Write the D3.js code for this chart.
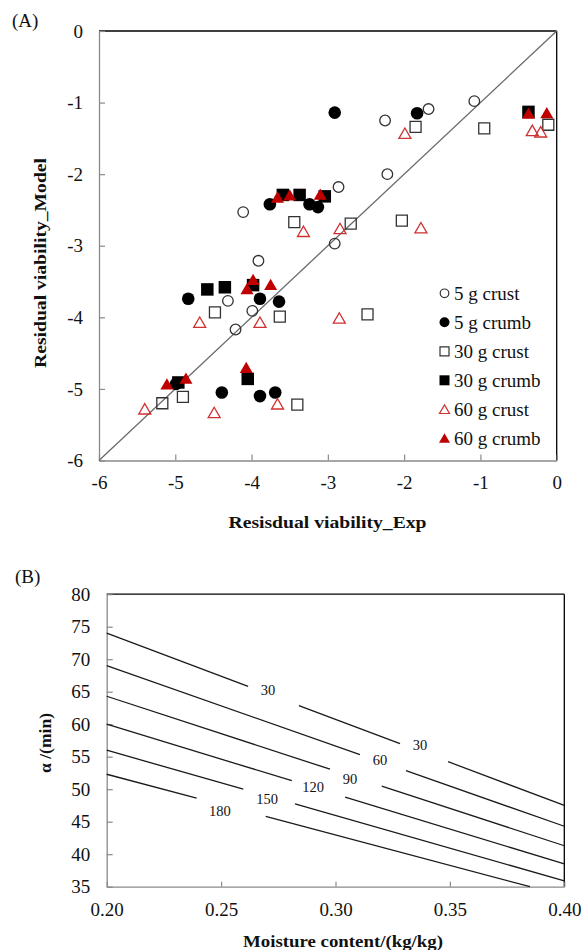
<!DOCTYPE html>
<html><head><meta charset="utf-8">
<script src="https://cdn.jsdelivr.net/npm/d3@7"></script>
<style>html,body{margin:0;padding:0;background:#fff;} svg{display:block;}</style>
</head><body>
<svg id="chart" width="583" height="950"></svg>
<script>
// ---------- Panel A data ----------
const seriesNames = ["5 g crust","5 g crumb","30 g crust","30 g crumb","60 g crust","60 g crumb"];
const crust5 = [[-1.08,-0.98],[-1.68,-1.09],[-2.25,-1.25],[-2.22,-2.00],[-2.86,-2.18],[-2.91,-2.97],[-4.11,-2.53],[-3.91,-3.21],[-4.31,-3.77],[-3.99,-3.91],[-4.21,-4.17]];
const crumb5 = [[-2.91,-1.14],[-1.83,-1.15],[-3.76,-2.42],[-3.24,-2.42],[-3.13,-2.46],[-4.83,-3.74],[-3.89,-3.74],[-3.64,-3.78],[-4.99,-4.93],[-4.39,-5.05],[-3.89,-5.10],[-3.69,-5.05]];
const crust30 = [[-0.11,-1.31],[-0.95,-1.36],[-1.85,-1.34],[-3.44,-2.67],[-2.70,-2.69],[-2.03,-2.65],[-4.48,-3.93],[-3.63,-3.99],[-2.48,-3.96],[-4.90,-5.11],[-5.17,-5.20],[-3.40,-5.22]];
const crumb30 = [[-0.37,-1.13],[-3.59,-2.29],[-3.37,-2.29],[-3.04,-2.31],[-4.58,-3.61],[-4.35,-3.58],[-3.98,-3.55],[-4.05,-4.86],[-4.96,-4.91]];
const crust60 = [[-1.99,-1.43],[-0.32,-1.39],[-0.21,-1.41],[-3.32,-2.80],[-2.84,-2.76],[-1.78,-2.75],[-4.68,-4.07],[-3.89,-4.07],[-2.85,-4.01],[-5.40,-5.28],[-4.49,-5.33],[-3.66,-5.21]];
const crumb60 = [[-0.37,-1.15],[-0.13,-1.14],[-3.66,-2.32],[-3.50,-2.29],[-3.10,-2.28],[-3.98,-3.47],[-4.06,-3.60],[-3.75,-3.54],[-4.07,-4.70],[-5.11,-4.93],[-4.86,-4.85]];
const aTicks = [-6,-5,-4,-3,-2,-1,0];
const diagonal = [[-6,-6],[0,0]];

// ---------- Panel B data ----------
const contourLevels = ["30","60","90","120","150","180"];
const contourStart = [[0.20,74.0],[0.20,69.0],[0.20,64.3],[0.20,60.0],[0.20,56.0],[0.20,52.3]];
const contourEnd   = [[0.40,47.5],[0.40,44.3],[0.40,41.3],[0.40,38.5],[0.40,35.9],[0.385,35.0]];
const contourGaps  = [[[0.2618,0.2840],[0.3282,0.3492]],[[0.3107,0.3308]],[[0.2976,0.3202]],[[0.2809,0.3042]],[[0.2597,0.2823]],[[0.2393,0.2695]]];
const contourLabels = [[["30",0.2705,65.3],["30",0.3369,56.8]],[["60",0.3194,54.5]],[["90",0.3063,51.6]],[["120",0.2902,50.3]],[["150",0.2701,48.5]],[["180",0.2495,46.6]]];
const bXTicks = [0.20,0.25,0.30,0.35,0.40];
const bYTicks = [35,40,45,50,55,60,65,70,75,80];

const svg = d3.select("#chart");
const SERIF = "'Liberation Serif','Times New Roman',serif";
const AXIS_GRAY = "#8a8a8a";

// ================= Panel A =================
const ax = d3.scaleLinear().domain([-6,0]).range([99,556.7]);
const ay = d3.scaleLinear().domain([-6,0]).range([460.5,31]);

const gA = svg.append("g");
// frame top & right
gA.append("line").attr("x1",ax(-6)).attr("x2",ax(0)).attr("y1",ay(0)).attr("y2",ay(0)).attr("stroke","#000").attr("stroke-width",1.3);
gA.append("line").attr("x1",ax(0)).attr("x2",ax(0)).attr("y1",ay(0)).attr("y2",ay(-6)).attr("stroke","#000").attr("stroke-width",1.3);

function styleAxis(g){
  g.select(".domain").attr("stroke",AXIS_GRAY).attr("stroke-width",1.3);
  g.selectAll(".tick line").attr("stroke",AXIS_GRAY).attr("stroke-width",1.2);
  g.selectAll(".tick text").attr("fill","#111").style("font-family",SERIF).style("font-size","19px");
}
const fmtInt = d => String(d);
gA.append("g").attr("transform",`translate(0,${ay(-6)})`)
  .call(d3.axisBottom(ax).tickValues(aTicks).tickFormat(fmtInt).tickSizeInner(-6).tickSizeOuter(0).tickPadding(15))
  .call(styleAxis);
gA.append("g").attr("transform",`translate(${ax(-6)},0)`)
  .call(d3.axisLeft(ay).tickValues(aTicks).tickFormat(fmtInt).tickSizeInner(-6).tickSizeOuter(0).tickPadding(16))
  .call(styleAxis);

// diagonal
gA.append("path").datum(diagonal)
  .attr("d", d3.line().x(d=>ax(d[0])).y(d=>ay(d[1])))
  .attr("stroke","#6a6a6a").attr("stroke-width",1.3).attr("fill","none");

const RED = "#c00000", RED_OPEN = "#d03030";
const seriesStyle = [
  {data:crust5,  type:d3.symbolCircle,   size:Math.PI*5.3*5.3, fill:"none", stroke:"#333", sw:1.3, dy:0},
  {data:crumb5,  type:d3.symbolCircle,   size:Math.PI*6.3*6.3, fill:"#000", stroke:"none", sw:0, dy:0},
  {data:crust30, type:d3.symbolSquare,   size:11*11, fill:"none", stroke:"#333", sw:1.3, dy:0},
  {data:crumb30, type:d3.symbolSquare,   size:12.5*12.5, fill:"#000", stroke:"none", sw:0, dy:0},
  {data:crust60, type:d3.symbolTriangle, size:12*12*0.433, fill:"none", stroke:RED_OPEN, sw:1.3, dy:1.6},
  {data:crumb60, type:d3.symbolTriangle, size:13*13*0.433, fill:RED, stroke:"none", sw:0, dy:1.8}
];
seriesStyle.forEach(s=>{
  gA.append("g").selectAll("path").data(s.data).join("path")
    .attr("transform",d=>`translate(${ax(d[0])},${ay(d[1])+s.dy})`)
    .attr("d", d3.symbol().type(s.type).size(s.size)())
    .attr("fill",s.fill).attr("stroke",s.stroke).attr("stroke-width",s.sw);
});

// legend
const legSymbolSize = [Math.PI*4.3*4.3, Math.PI*5*5, 9*9, 10*10, 10*10*0.433, 11*11*0.433];
const leg = gA.append("g");
seriesNames.forEach((name,i)=>{
  const s = seriesStyle[i];
  const yy = 293.3 + 29*i;
  leg.append("path").attr("transform",`translate(444.5,${yy + (s.dy?1.3:0)})`)
    .attr("d", d3.symbol().type(s.type).size(legSymbolSize[i])())
    .attr("fill",s.fill).attr("stroke",s.stroke).attr("stroke-width",s.sw?1.2:0);
  leg.append("text").attr("x",454).attr("y",yy+6.3).text(name)
    .style("font-family",SERIF).style("font-size","19px").attr("fill","#111");
});

// titles
svg.append("text").attr("x",12).attr("y",26.5).text("(A)")
  .style("font-family",SERIF).style("font-size","19px").attr("fill","#111");
svg.append("text").attr("x",327.5).attr("y",528.3).attr("text-anchor","middle")
  .attr("textLength",198).attr("lengthAdjust","spacingAndGlyphs")
  .text("Resisdual viability_Exp").style("font-family",SERIF).style("font-size","17.5px").style("font-weight","bold").attr("fill","#111");
svg.append("text").attr("transform","translate(46,263) rotate(-90)").attr("text-anchor","middle")
  .attr("textLength",210).attr("lengthAdjust","spacingAndGlyphs")
  .text("Residual viability_Model").style("font-family",SERIF).style("font-size","17.5px").style("font-weight","bold").attr("fill","#111");

// ================= Panel B =================
const bx = d3.scaleLinear().domain([0.20,0.40]).range([106.7,564.3]);
const by = d3.scaleLinear().domain([35,80]).range([886.7,594.2]);
const gB = svg.append("g");
gB.append("line").attr("x1",bx(0.2)).attr("x2",bx(0.4)).attr("y1",by(80)).attr("y2",by(80)).attr("stroke","#000").attr("stroke-width",1.3);
gB.append("line").attr("x1",bx(0.4)).attr("x2",bx(0.4)).attr("y1",by(80)).attr("y2",by(35)).attr("stroke","#000").attr("stroke-width",1.3);
gB.append("g").attr("transform",`translate(0,${by(35)})`)
  .call(d3.axisBottom(bx).tickValues(bXTicks).tickFormat(d3.format(".2f")).tickSizeInner(-5).tickSizeOuter(0).tickPadding(15.5))
  .call(styleAxis);
gB.append("g").attr("transform",`translate(${bx(0.2)},0)`)
  .call(d3.axisLeft(by).tickValues(bYTicks).tickFormat(fmtInt).tickSizeInner(-6).tickSizeOuter(0).tickPadding(16.5))
  .call(styleAxis);

const lineGen = d3.line().x(d=>bx(d[0])).y(d=>by(d[1]));
contourLevels.forEach((lev,i)=>{
  const [x0,y0] = contourStart[i], [x1,y1] = contourEnd[i];
  const yAt = x => y0 + (y1-y0)*(x-x0)/(x1-x0);
  const gaps = contourGaps[i];
  let cur = x0;
  const segs = [];
  gaps.forEach(g=>{ segs.push([cur,g[0]]); cur = g[1]; });
  segs.push([cur,x1]);
  segs.forEach(sg=>{
    gB.append("path").datum([[sg[0],yAt(sg[0])],[sg[1],yAt(sg[1])]])
      .attr("d",lineGen).attr("stroke","#1a1a1a").attr("stroke-width",1.3).attr("fill","none");
  });
  contourLabels[i].forEach(l=>{
    gB.append("text").attr("x",bx(l[1])).attr("y",by(l[2])).attr("dy","0.35em").attr("text-anchor","middle")
      .text(l[0]).style("font-family",SERIF).style("font-size","14.5px").attr("fill","#111");
  });
});

svg.append("text").attr("x",15).attr("y",583).text("(B)")
  .style("font-family",SERIF).style("font-size","19px").attr("fill","#111");
svg.append("text").attr("x",343).attr("y",946.7).attr("text-anchor","middle")
  .attr("textLength",200).attr("lengthAdjust","spacingAndGlyphs")
  .text("Moisture content/(kg/kg)").style("font-family",SERIF).style("font-size","17.5px").style("font-weight","bold").attr("fill","#111");
svg.append("text").attr("transform","translate(51,743) rotate(-90)").attr("text-anchor","middle")
  .attr("textLength",60).attr("lengthAdjust","spacingAndGlyphs")
  .text("α /(min)").style("font-family",SERIF).style("font-size","17.5px").style("font-weight","bold").attr("fill","#111");
</script>
</body></html>
